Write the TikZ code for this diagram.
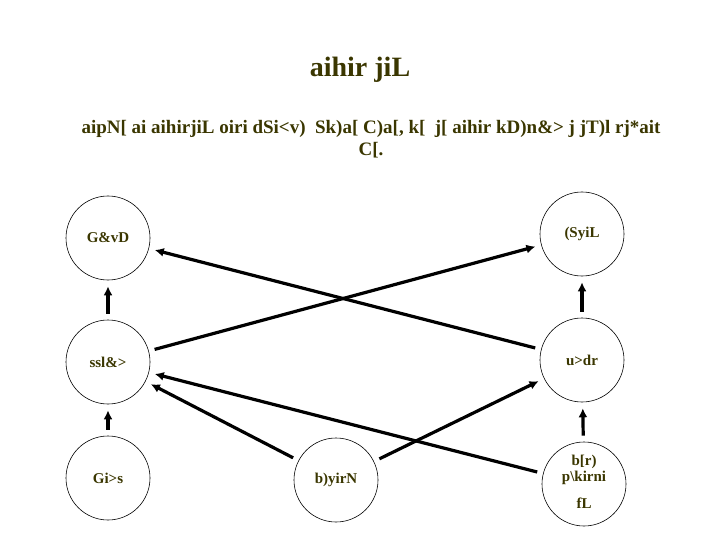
\documentclass[tikz,border=0pt]{standalone}
\usepackage{fontspec}
\setmainfont{Liberation Serif}
\usetikzlibrary{arrows.meta}
\definecolor{txt}{RGB}{58,54,0}
\begin{document}
\begin{tikzpicture}[x=1pt,y=-1pt,
  circ/.style={circle,draw=black,line width=0.6pt,minimum size=84pt,inner sep=0pt,
    font=\bfseries\fontsize{15}{16}\selectfont,text=txt,align=center},
  conn/.style={line width=3.2pt,-{Latex[length=9pt,width=9pt]},shorten <=6pt,shorten >=6pt},
  titletext/.style={font=\bfseries\fontsize{28}{32}\selectfont,text=txt},
  subtext/.style={font=\bfseries\fontsize{19}{22}\selectfont,text=txt,align=center}]
\useasboundingbox (0,0) rectangle (720,540);
\node[titletext] (title) at (360,70) {aihir jiL};
\node[subtext] (sub) at (371,139) {aipN[ ai aihirjiL oiri dSi<v)\ \ Sk)a[ C)a[, k[\ \ j[ aihir kD)n\&> j jT)l rj*ait\\C[.};
\node[circ] (gvd) at (108,238) {G\&vD};
\node[circ] (syil) at (582,234) {(SyiL};
\node[circ] (ssl) at (108,362) {ssl\&>};
\node[circ] (udr) at (582,360) {u>dr};
\node[circ] (gis) at (108,478) {Gi>s};
\node[circ] (byirn) at (336,480) {b)yirN};
\node[circ] (br) at (584,484) {\raisebox{11pt}{\begin{tabular}{@{}c@{}}b[r)\\[0pt]p\textbackslash kirni\\[11pt]fL\end{tabular}}};
\draw[conn] (ssl) -- (syil);
\draw[conn] (udr) -- (gvd);
\draw[conn] (byirn) -- (ssl);
\draw[conn] (br) -- (ssl);
\draw[conn] (byirn) -- (udr);
\draw[conn] (gis) -- (ssl);
\draw[conn] (ssl) -- (gvd);
\draw[conn] (br) -- (udr);
\draw[conn] (udr) -- (syil);
\end{tikzpicture}
\end{document}
